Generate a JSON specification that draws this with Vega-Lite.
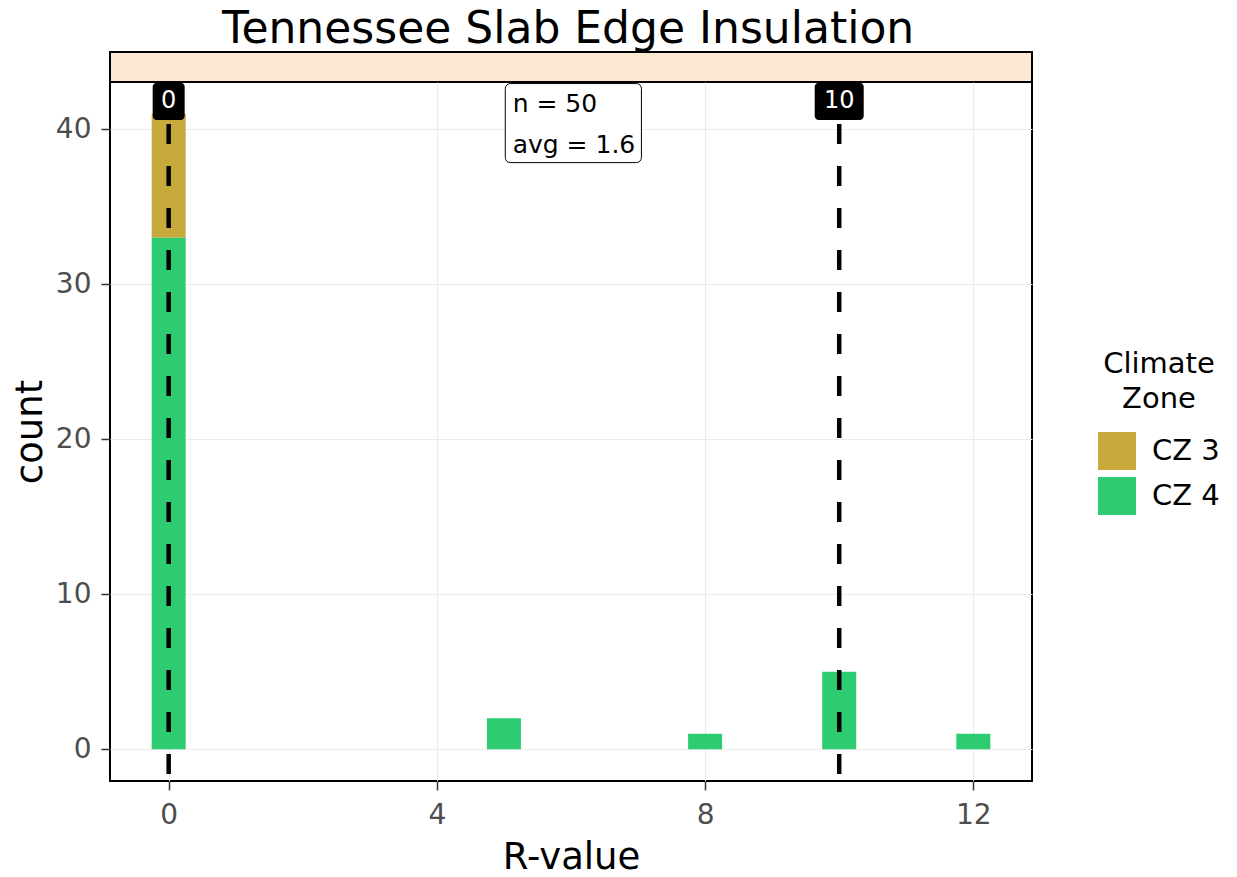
{
  "$schema": "https://vega.github.io/schema/vega-lite/v6.json",
  "background": "white",
  "padding": {"left": 10, "top": 8, "right": 5, "bottom": 0},
  "bounds": "flush",
  "title": {"text": "Tennessee Slab Edge Insulation", "fontSize": 44, "font": "DejaVu Sans", "fontWeight": "normal", "color": "black", "anchor": "start", "frame": "group", "dx": 112, "offset": -1},
  "datasets": {
    "bars": [
      {"R": 0, "zone": "CZ 3", "count": 8},
      {"R": 0, "zone": "CZ 4", "count": 33},
      {"R": 5, "zone": "CZ 4", "count": 2},
      {"R": 8, "zone": "CZ 4", "count": 1},
      {"R": 10, "zone": "CZ 4", "count": 5},
      {"R": 12, "zone": "CZ 4", "count": 1}
    ],
    "vlines": [
      {"v": 0, "label": "0"},
      {"v": 10, "label": "10"}
    ],
    "note": [
      {"label": "n = 50\navg = 1.6"}
    ]
  },
  "spacing": 0,
  "vconcat": [
    {
      "width": 922,
      "height": 30,
      "data": {"values": [{"s": ""}]},
      "mark": {"type": "text"},
      "encoding": {"text": {"field": "s"}},
      "view": {"fill": "#FBE8D2", "stroke": "black", "strokeWidth": 2}
    },
    {
      "width": 922,
      "height": 699,
      "view": {"fill": "white", "stroke": "black", "strokeWidth": 2},
      "layer": [
        {
          "data": {"name": "bars"},
          "mark": {"type": "bar", "width": 34},
          "encoding": {
            "x": {"field": "R", "type": "quantitative",
                  "scale": {"domain": [-0.875, 12.875], "nice": false, "zero": false, "padding": 0},
                  "axis": {"values": [0, 4, 8, 12], "format": "d", "title": "R-value", "tickSize": 9, "labelPadding": 11, "titlePadding": 10}},
            "y": {"field": "count", "type": "quantitative", "stack": "zero",
                  "scale": {"domain": [-2.05, 43.05], "nice": false, "zero": false, "padding": 0},
                  "axis": {"values": [0, 10, 20, 30, 40], "format": "d", "title": "count", "tickSize": 9, "labelPadding": 10, "titlePadding": 6}},
            "color": {"field": "zone", "type": "nominal",
                      "scale": {"domain": ["CZ 3", "CZ 4"], "range": ["#C8A93C", "#2ECC71"]},
                      "legend": {"title": ["Climate", "Zone"], "orient": "none", "legendX": 988, "legendY": 298,
                                 "titleAnchor": "middle", "titleAlign": "center", "titleLineHeight": 35, "symbolType": "square", "symbolSize": 1444,
                                 "symbolStrokeWidth": 0, "rowPadding": 7, "labelOffset": 16, "titlePadding": 18}},
            "order": {"field": "zone", "sort": "descending"}
          }
        },
        {
          "data": {"name": "vlines"},
          "mark": {"type": "rule", "strokeDash": [20, 22], "strokeWidth": 4.5, "color": "black"},
          "encoding": {"x": {"field": "v", "type": "quantitative"}}
        },
        {
          "data": {"name": "vlines"},
          "transform": [{"filter": "datum.v == 0"}],
          "mark": {"type": "bar", "width": 32, "color": "black", "cornerRadius": 4},
          "encoding": {
            "x": {"field": "v", "type": "quantitative"},
            "y": {"datum": 43.0},
            "y2": {"datum": 40.6}
          }
        },
        {
          "data": {"name": "vlines"},
          "transform": [{"filter": "datum.v == 10"}],
          "mark": {"type": "bar", "width": 49, "color": "black", "cornerRadius": 4},
          "encoding": {
            "x": {"field": "v", "type": "quantitative"},
            "y": {"datum": 43.0},
            "y2": {"datum": 40.6}
          }
        },
        {
          "data": {"name": "vlines"},
          "mark": {"type": "text", "color": "white", "fontSize": 24, "baseline": "middle", "align": "center", "font": "DejaVu Sans"},
          "encoding": {
            "x": {"field": "v", "type": "quantitative"},
            "y": {"datum": 41.85},
            "text": {"field": "label"}
          }
        },
        {
          "data": {"name": "note"},
          "mark": {"type": "rect", "fill": "white", "stroke": "black", "strokeWidth": 1, "cornerRadius": 5},
          "encoding": {
            "x": {"datum": 5.02},
            "x2": {"datum": 7.05},
            "y": {"datum": 42.95},
            "y2": {"datum": 37.85}
          }
        },
        {
          "data": {"name": "note"},
          "mark": {"type": "text", "lineBreak": "\n", "align": "left", "baseline": "middle", "fontSize": 25, "lineHeight": 41, "color": "black", "font": "DejaVu Sans"},
          "encoding": {
            "x": {"datum": 5.13},
            "y": {"datum": 41.66},
            "text": {"field": "label"}
          }
        }
      ]
    }
  ],
  "config": {
    "font": "DejaVu Sans",
    "axis": {
      "labelFontSize": 28, "labelColor": "#4D4D4D", "titleFontSize": 37, "titleFontWeight": "normal", "titleColor": "black",
      "tickColor": "#333333", "tickWidth": 1.5, "gridColor": "#EBEBEB", "gridWidth": 1.1, "domain": false
    },
    "legend": {"labelFontSize": 29, "titleFontSize": 29, "titleFontWeight": "normal", "labelColor": "black", "titleColor": "black"}
  }
}
